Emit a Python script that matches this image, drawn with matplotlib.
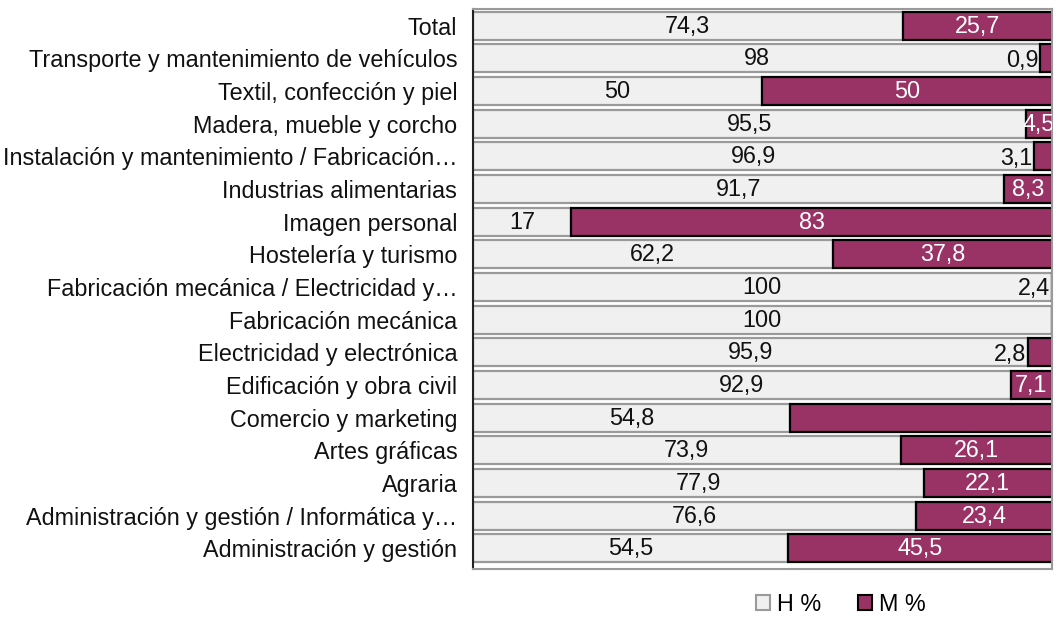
import matplotlib.pyplot as plt
from matplotlib.patches import Patch
import numpy as np

plt.rcParams['font.family'] = ['Liberation Sans', 'DejaVu Sans']

## Categorias (de arriba a abajo)
categorias = [
    "Total",
    "Transporte y mantenimiento de vehículos",
    "Textil, confección y piel",
    "Madera, mueble y corcho",
    "Instalación y mantenimiento / Fabricación…",
    "Industrias alimentarias",
    "Imagen personal",
    "Hostelería y turismo",
    "Fabricación mecánica / Electricidad y…",
    "Fabricación mecánica",
    "Electricidad y electrónica",
    "Edificación y obra civil",
    "Comercio y marketing",
    "Artes gráficas",
    "Agraria",
    "Administración y gestión / Informática y…",
    "Administración y gestión",
]

## Porcentajes de hombres (H) y mujeres (M)
h_pct = [74.3, 98, 50, 95.5, 96.9, 91.7, 17, 62.2, 100, 100, 95.9, 92.9, 54.8, 73.9, 77.9, 76.6, 54.5]
## ancho de la barra M tal como se ve en el grafico
m_pct = [25.7, 2.0, 50, 4.5, 3.1, 8.3, 83, 37.8, 2.4, 0, 4.1, 7.1, 45.2, 26.1, 22.1, 23.4, 45.5]
## etiquetas de M (Comercio sin etiqueta)
m_etiq = ["25,7", "0,9", "50", "4,5", "3,1", "8,3", "83", "37,8", "2,4", "", "2,8", "7,1", "", "26,1", "22,1", "23,4", "45,5"]
h_etiq = ["74,3", "98", "50", "95,5", "96,9", "91,7", "17", "62,2", "100", "100", "95,9", "92,9", "54,8", "73,9", "77,9", "76,6", "54,5"]

color_h = '#f0f0f0'
color_m = '#993366'

fig = plt.figure(figsize=(10.55, 6.21), dpi=100)
ax = fig.add_axes([0.448, 0.083, 0.549, 0.902])

y = np.arange(len(categorias))
alto = 0.86

ax.barh(y, h_pct, height=alto, color=color_h, edgecolor='#9a9a9a', linewidth=1.6)
ax.barh(y, m_pct, left=h_pct, height=alto, color=color_m, edgecolor='black', linewidth=1.6)

fs = 16.8
for i in range(len(categorias)):
    ax.text(h_pct[i] / 2, y[i] + 0.02, h_etiq[i], ha='center', va='center', fontsize=fs, color='#111111')
    if m_etiq[i] == "":
        continue
    if m_pct[i] < 4.2 or h_pct[i] >= 100:
        ax.text(h_pct[i] - 0.3, y[i] + 0.06, m_etiq[i], ha='right', va='center', fontsize=fs, color='#111111')
    else:
        ax.text(h_pct[i] + m_pct[i] / 2, y[i] + 0.02, m_etiq[i], ha='center', va='center', fontsize=fs,
                color='white', clip_on=True)

ax.set_xlim(0, 100)
ax.set_ylim(len(categorias) - 0.35, -0.5)
ax.set_yticks(y)
ax.set_yticklabels(categorias, fontsize=fs, color='#111111')
ax.tick_params(axis='y', length=0, pad=11)
ax.set_xticks([])

ax.spines['left'].set_color('#222222')
ax.spines['left'].set_linewidth(1.5)
for s in ['top', 'right', 'bottom']:
    ax.spines[s].set_color('#9a9a9a')
    ax.spines[s].set_linewidth(1.5)

handles = [Patch(facecolor=color_h, edgecolor='#9a9a9a', linewidth=1.5, label='H %'),
           Patch(facecolor=color_m, edgecolor='black', linewidth=1.5, label='M %')]
fig.legend(handles=handles, loc='center', bbox_to_anchor=(0.797, 0.027), ncol=2, frameon=False,
           fontsize=fs, handlelength=0.6, handleheight=0.6, handletextpad=0.3, columnspacing=1.6)

plt.savefig('out.png', dpi=100)
